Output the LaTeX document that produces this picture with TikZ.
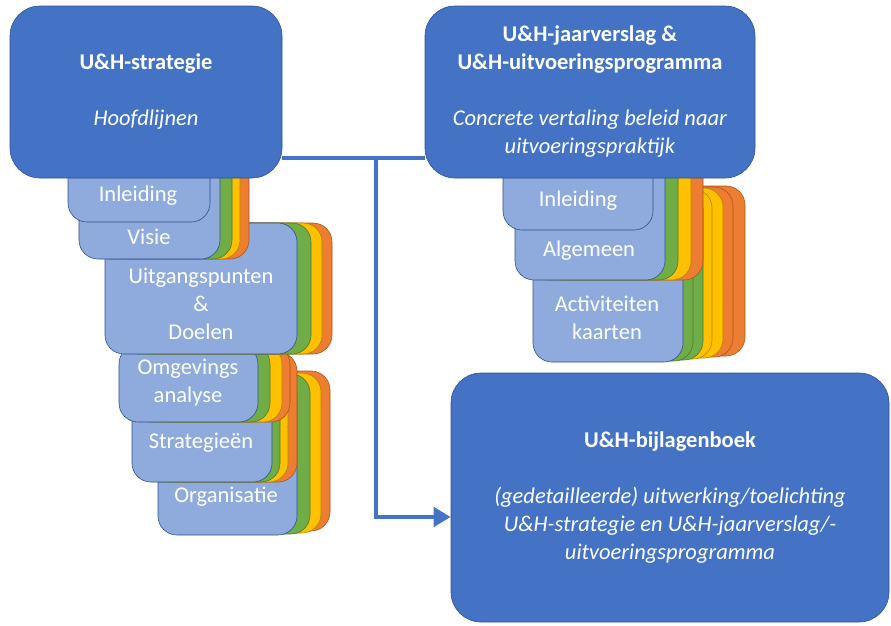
\documentclass[tikz,border=0pt]{standalone}
\usepackage{fontspec}
\setmainfont{Carlito}
\usetikzlibrary{arrows.meta,positioning}
\definecolor{blueD}{HTML}{4472C4}
\definecolor{blueL}{HTML}{8FAADC}
\definecolor{blueB}{HTML}{2F528F}
\definecolor{greenC}{HTML}{70AD47}
\definecolor{yellowC}{HTML}{FFC000}
\definecolor{orangeC}{HTML}{ED7D31}
\tikzset{
    mainbox/.style = {draw=blueB, fill=blueD, line width=0.6pt, rounded corners=30pt, inner sep=0pt,
        text=white, align=center, font=\fontsize{22.5}{28}\selectfont},
    card/.style    = {draw=blueB, fill=blueL, line width=0.6pt, rounded corners=19pt, inner sep=0pt},
    cardtext/.style= {text=white, align=center, inner sep=0pt, font=\fontsize{22.5}{28}\selectfont},
    sheet/.style   = {draw=#1!70!black, fill=#1, line width=0.6pt, rounded corners=19pt},
    link/.style    = {draw=blueD, line width=4.5pt}
}

\begin{document}
\begin{tikzpicture}[x=1pt, y=-1pt]
    \useasboundingbox (0,0) rectangle (891,625);

    % strategie: stapel hoofdstukken
    \foreach \dx/\dy/\c in {33/-4/orangeC, 24/-2/yellowC, 13/-1/greenC}
        \draw[sheet=\c] (158+\dx,375+\dy) rectangle (297+\dx,535+\dy);
    \node [card, minimum width=139pt, minimum height=160pt] (org) at (227.5,455) {};
    \node [cardtext] (t-org) at (226,497) {Organisatie};

    \foreach \dx/\c in {25/orangeC, 16/yellowC, 8/greenC}
        \draw[sheet=\c] (132+\dx,352) rectangle (272+\dx,482);
    \node [card, minimum width=140pt, minimum height=130pt] (str) at (202,417) {};
    \node [cardtext] (t-str) at (201,443) {Strategieën};

    \foreach \dx/\c in {32/orangeC, 24/yellowC, 12/greenC}
        \draw[sheet=\c] (119+\dx,345) rectangle (258+\dx,422);
    \node [card, minimum width=139pt, minimum height=77pt] (omg) at (188.5,383.5) {};
    \node [cardtext] (t-omg) at (188,383) {Omgevings\\analyse};

    \foreach \dx/\c in {35/orangeC, 25/yellowC, 14/greenC}
        \draw[sheet=\c] (105+\dx,223) rectangle (297+\dx,354);
    \node [card, minimum width=192pt, minimum height=131pt] (uit) at (201,288.5) {};
    \node [cardtext] (t-uit) at (201,304) {Uitgangspunten\\\&\\Doelen};

    \foreach \dx/\c in {29/orangeC, 20/yellowC, 12/greenC}
        \draw[sheet=\c] (79+\dx,150) rectangle (220+\dx,259);
    \node [card, minimum width=141pt, minimum height=109pt] (vis) at (149.5,204.5) {};
    \node [cardtext] (t-vis) at (149,237) {Visie};

    \node [card, minimum width=142pt, minimum height=72pt] (inl) at (139,186) {};
    \node [cardtext] (t-inl) at (138,196) {Inleiding};

    \node [mainbox, minimum width=272pt, minimum height=172pt] (strat) at (146,92)
        {\textbf{U\&H-strategie}\\[28pt]\textit{Hoofdlijnen}};

    % jaarverslag: stapel onderdelen
    \foreach \dx/\dy/\c in {62/-6/orangeC, 50/-5/orangeC, 40/-4/yellowC, 29/-3/yellowC, 20/-2/greenC, 10/-1/greenC}
        \draw[sheet=\c] (533+\dx,192+\dy) rectangle (683+\dx,362+\dy);
    \node [card, minimum width=150pt, minimum height=170pt] (act) at (608,277) {};
    \node [cardtext] (t-act) at (607,318) {Activiteiten\\kaarten};

    \foreach \dx/\c in {38/orangeC, 26/yellowC, 13/greenC}
        \draw[sheet=\c] (515+\dx,150) rectangle (665+\dx,280);
    \node [card, minimum width=150pt, minimum height=130pt] (alg) at (590,215) {};
    \node [cardtext] (t-alg) at (589,251) {Algemeen};

    \node [card, minimum width=150pt, minimum height=80pt] (ainl) at (578,190) {};
    \node [cardtext] (t-ainl) at (578,201) {Inleiding};

    \node [mainbox, minimum width=330pt, minimum height=172pt] (jaar) at (590,92)
        {\textbf{U\&H-jaarverslag \&}\\\textbf{U\&H-uitvoeringsprogramma}\\[28pt]%
         \textit{Concrete vertaling beleid naar}\\\textit{uitvoeringspraktijk}};

    \node [mainbox, minimum width=438pt, minimum height=249pt] (bijl) at (670,497.5)
        {\textbf{U\&H-bijlagenboek}\\[28pt]%
         \textit{(gedetailleerde) uitwerking/toelichting}\\%
         \textit{U\&H-strategie en U\&H-jaarverslag/-}\\\textit{uitvoeringsprogramma}};

    % verbindingen
    \coordinate (split) at (376,158);
    \coordinate (bend)  at (376,517);
    \draw [link] (strat.east |- split) -- (jaar.west |- split);
    \draw [link, -{Triangle[width=19pt,length=17pt]}] (split) -- (bend) -- (bijl.west |- bend);
\end{tikzpicture}
\end{document}
